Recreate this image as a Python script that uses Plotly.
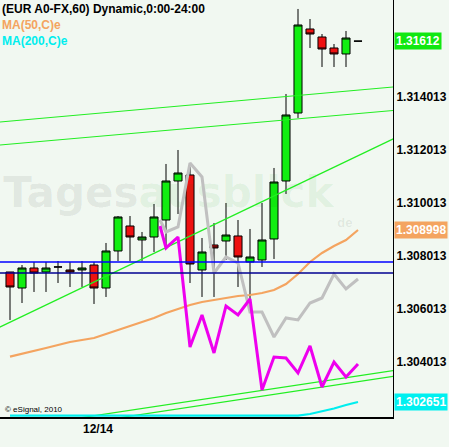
import plotly.graph_objects as go

# EUR A0-FX hourly candles (index = bar number)
bars = list(range(30))
opens = [1.307409, 1.306805, 1.307560, 1.307409, 1.307598, 1.307485, 1.307485, 1.307673, 1.306805, 1.308202,
         1.309145, 1.308617, 1.308730, 1.309371, 1.310843, 1.311070, 1.307485, 1.308428, 1.308579, 1.308768,
         1.307787, 1.307862, 1.308655, 1.310843, 1.313409, 1.316579, 1.316277, 1.315862, 1.315636, 1.316120]
highs = [1.307409, 1.307673, 1.307787, 1.307787, 1.307824, 1.307787, 1.307824, 1.307787, 1.308504, 1.309522,
         1.309522, 1.308919, 1.309975, 1.311485, 1.312013, 1.311371, 1.308692, 1.309258, 1.310013, 1.309371,
         1.309032, 1.310013, 1.311334, 1.314126, 1.317334, 1.316956, 1.316390, 1.316013, 1.316504, 1.316120]
lows = [1.305598, 1.306239, 1.306655, 1.306655, 1.306994, 1.306843, 1.306843, 1.306202, 1.306466, 1.307824,
        1.307824, 1.307824, 1.308164, 1.308315, 1.309598, 1.306994, 1.306466, 1.306466, 1.307862, 1.306843,
        1.306353, 1.307598, 1.307900, 1.310353, 1.313221, 1.315862, 1.315145, 1.315145, 1.315145, 1.316120]
closes = [1.306843, 1.307560, 1.307371, 1.307560, 1.307598, 1.307409, 1.307560, 1.306805, 1.308202, 1.309485,
          1.308730, 1.308730, 1.309485, 1.310843, 1.311145, 1.307711, 1.308164, 1.308315, 1.308805, 1.307975,
          1.307975, 1.308617, 1.310805, 1.313334, 1.316730, 1.316390, 1.315824, 1.315636, 1.316239, 1.316120]

ma50 = [1.304213, 1.304315, 1.304428, 1.304541, 1.304655, 1.304768, 1.304843, 1.304919, 1.305070, 1.305221,
        1.305371, 1.305522, 1.305673, 1.305862, 1.306013, 1.306164, 1.306277, 1.306353, 1.306428, 1.306504,
        1.306541, 1.306617, 1.306730, 1.306956, 1.307334, 1.307787, 1.308126, 1.308390, 1.308617, 1.308994]
ma200 = [1.301987] * 25 + [1.302051, 1.302145, 1.302258, 1.302390, 1.302504]

# two oscillator-style lines drawn on the price scale
osc_x = [12.5] + list(range(13, 30))
gray_line = [1.309371, 1.308919, 1.309107, 1.311522, 1.310994, 1.307371, 1.307975, 1.307749, 1.305900,
             1.305900, 1.304956, 1.305673, 1.305598, 1.306239, 1.306428, 1.307334, 1.306768, 1.307145]
magenta_line = [1.309145, 1.308315, 1.308730, 1.304579, 1.305787, 1.304353, 1.306126, 1.305787, 1.306390,
                1.302956, 1.304202, 1.304164, 1.303598, 1.304617, 1.303070, 1.304013, 1.303447, 1.303938]

# trend lines, values at bar -1 and bar 32
trend_x = [-1, 32]
trend_lines = [
    [1.313063, 1.314394],
    [1.312195, 1.313507],
    [1.305297, 1.312447],
    [1.301438, 1.303692],
    [1.301217, 1.303473],
]
blue_levels = [(1.307787, "#0000ff"), (1.307371, "#000090")]

y_ticks = [1.304013, 1.306013, 1.308013, 1.310013, 1.312013, 1.314013]
date_ticks = [7]
date_labels = ["12/14"]

# last-value tags on the price axis
tags = [
    (closes[-1], "1.31612", "#11e811"),
    (ma50[-1], "1.308998", "#f4a460"),
    (ma200[-1], "1.302651", "#00f0f0"),
]

FONT = "Liberation Sans, Arial, sans-serif"

fig = go.Figure()

# faint watermark behind everything
fig.add_trace(go.Scatter(
    x=[13.2], y=[1.310250], mode="text",
    text=["<b><span style='color:rgba(0,0,0,0.07)'>Tages</span>"
          "<span style='color:rgba(0,140,0,0.07)'>ausblick</span></b>"],
    textfont=dict(family="DejaVu Sans, sans-serif", size=42),
    hoverinfo="skip", showlegend=False,
))
fig.add_trace(go.Scatter(
    x=[27.9], y=[1.309240], mode="text",
    text=["<b>de</b>"], textfont=dict(family=FONT, size=13, color="rgba(0,0,0,0.08)"),
    hoverinfo="skip", showlegend=False,
))

for tl in trend_lines:
    fig.add_trace(go.Scatter(x=trend_x, y=tl, mode="lines",
                             line=dict(color="#22ee22", width=1.2),
                             hoverinfo="skip", showlegend=False))

for lvl, col in blue_levels:
    fig.add_hline(y=lvl, line=dict(color=col, width=1.3))

fig.add_trace(go.Scatter(x=bars, y=ma50, mode="lines",
                         line=dict(color="#f4a460", width=2.2), showlegend=False))
fig.add_trace(go.Scatter(x=bars, y=ma200, mode="lines",
                         line=dict(color="#00eeee", width=2.2), showlegend=False))
fig.add_trace(go.Scatter(x=osc_x, y=gray_line, mode="lines",
                         line=dict(color="#c0c0c0", width=3), showlegend=False))
fig.add_trace(go.Scatter(x=osc_x, y=magenta_line, mode="lines",
                         line=dict(color="#ee00ee", width=3), showlegend=False))

fig.add_trace(go.Candlestick(
    x=bars, open=opens, high=highs, low=lows, close=closes,
    increasing=dict(fillcolor="#11ee11", line=dict(color="black", width=1)),
    decreasing=dict(fillcolor="#ee1111", line=dict(color="black", width=1)),
    whiskerwidth=0, showlegend=False,
))

# header texts
header = [
    ("(EUR A0-FX,60) Dynamic,0:00-24:00", "black", 9),
    ("MA(50,C)e", "#f4a460", 25),
    ("MA(200,C)e", "#00eeee", 41),
]
for txt, col, py in header:
    fig.add_annotation(xref="paper", yref="paper", x=0, y=1 - py / 417,
                       xanchor="left", yanchor="middle", showarrow=False,
                       text="<b>" + txt + "</b>", font=dict(family=FONT, size=12, color=col))

fig.add_annotation(xref="paper", yref="paper", x=3 / 393, y=1 - 409 / 417,
                   xanchor="left", yanchor="middle", showarrow=False,
                   text="© eSignal, 2010", font=dict(family=FONT, size=8, color="black"))

for val, txt, col in tags:
    fig.add_annotation(xref="paper", yref="y", x=1, y=val, xanchor="left", yanchor="middle",
                       xshift=1, showarrow=False, bgcolor=col, borderpad=1,
                       text="<b>" + txt + "</b>", font=dict(family=FONT, size=12, color="white"))

fig.update_layout(
    template="none",
    width=449, height=447,
    margin=dict(l=0, r=56, t=0, b=30, autoexpand=False),
    paper_bgcolor="#f1f8f1", plot_bgcolor="#f1f8f1",
    boxgap=0.33, boxgroupgap=0,
    showlegend=False,
    xaxis=dict(range=[-0.833, 31.917], rangeslider=dict(visible=False), automargin=False,
               showgrid=False, zeroline=False, showline=True, linecolor="black", linewidth=2,
               tickvals=date_ticks, ticktext=date_labels, ticks="", ticklabelshift=4,
               tickfont=dict(family=FONT, size=12, color="black", weight="bold")),
    yaxis=dict(range=[1.301937, 1.317673], side="right", automargin=False,
               showgrid=False, zeroline=False, showline=True, linecolor="black", linewidth=1,
               tickvals=y_ticks, tickformat=".6f", ticks="",
               tickfont=dict(family=FONT, size=12, color="black", weight="bold")),
)

# the page's default body margin would push the chart off the window
fig.write_html("out.html", config={"displayModeBar": False},
               post_script="document.body.style.margin='0';document.body.style.overflow='hidden';")
